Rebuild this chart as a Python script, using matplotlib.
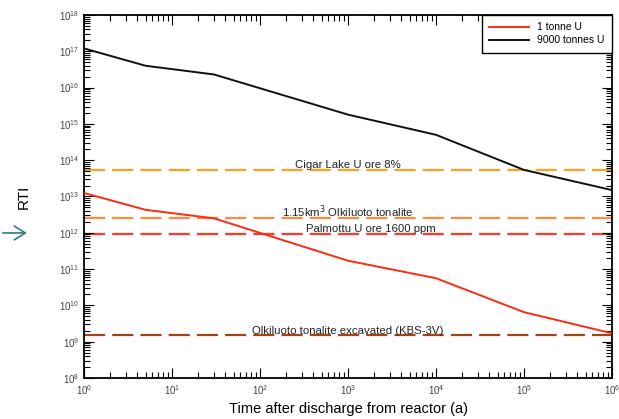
import matplotlib
matplotlib.use("Agg")
import matplotlib.pyplot as plt
from matplotlib.ticker import LogLocator, NullFormatter
import numpy as np

plt.rcParams['font.family'] = ['Liberation Sans', 'DejaVu Sans']

time_a = [1, 5, 30, 1e3, 1e4, 1e5, 1e6]
rti_1t = [1.25e13, 4.3e12, 2.5e12, 1.7e11, 5.6e10, 6.5e9, 1.7e9]
rti_9000t = [1.2e17, 4.0e16, 2.3e16, 1.8e15, 5.0e14, 5.4e13, 1.5e13]
series_labels = ["1 tonne U", "9000 tonnes U"]

ref_labels = ["Cigar Lake U ore 8%", "1.15km$^3$ Olkiluoto tonalite",
              "Palmottu U ore 1600 ppm", "Olkiluoto tonalite excavated (KBS-3V)"]
ref_values = [5.4e13, 2.5e12, 9.4e11, 1.5e9]
ref_colors = ["#FFA020", "#FF8A40", "#FF3A2A", "#A0441A"]

fig = plt.figure(figsize=(6.19, 4.19), dpi=100)
ax = fig.add_axes([0.1357, 0.0979, 0.8530, 0.8663])

for v, c in zip(ref_values, ref_colors):
    ax.axhline(v, color=c, lw=1.6, ls=(0, (9.5, 3.2)), zorder=1)

ax.plot(time_a, rti_1t, color="#FF2A10", lw=1.4, label=series_labels[0], zorder=3)
ax.plot(time_a, rti_9000t, color="#111111", lw=1.4, label=series_labels[1], zorder=3)

ax.set_xscale('log')
ax.set_yscale('log')
ax.set_xlim(1, 1e6)
ax.set_ylim(1e8, 1e18)

text_x = [1.0e3, 1.0e3, 1.8e3, 1.0e3]
for lab, v, x in zip(ref_labels, ref_values, text_x):
    ax.text(x, v * 1.12, lab, ha='center', va='baseline', fontsize=8.2, color='#222222', zorder=4)

ax.xaxis.set_major_locator(LogLocator(base=10, numticks=20))
ax.xaxis.set_minor_locator(LogLocator(base=10, subs=np.arange(2, 10), numticks=20))
ax.yaxis.set_major_locator(LogLocator(base=10, numticks=20))
ax.yaxis.set_minor_locator(LogLocator(base=10, subs=np.arange(2, 10), numticks=20))
ax.xaxis.set_minor_formatter(NullFormatter())
ax.yaxis.set_minor_formatter(NullFormatter())

ax.tick_params(which='both', direction='in', top=True, right=True, labelsize=7,
               labelcolor='#444444', width=0.8)
ax.tick_params(which='major', length=7)
ax.tick_params(which='minor', length=4)
for s in ax.spines.values():
    s.set_linewidth(1.3)

ax.set_ylabel("RTI", fontsize=11, labelpad=20)
ax.set_xlabel("Time after discharge from reactor (a)", fontsize=10.5, labelpad=4)

leg = ax.legend(loc='upper right', fontsize=7.5, fancybox=False, edgecolor='black',
                framealpha=1, borderaxespad=0, handlelength=3.8, borderpad=0.7,
                labelspacing=0.3)
leg.get_frame().set_linewidth(1.0)

fig.patches.append(matplotlib.patches.FancyArrowPatch(
    (0.0, 0.444), (0.048, 0.444), transform=fig.transFigure,
    arrowstyle='->,head_length=8,head_width=5', color='#2E7D7D', lw=1.2))

fig.savefig("out.png", dpi=100)
